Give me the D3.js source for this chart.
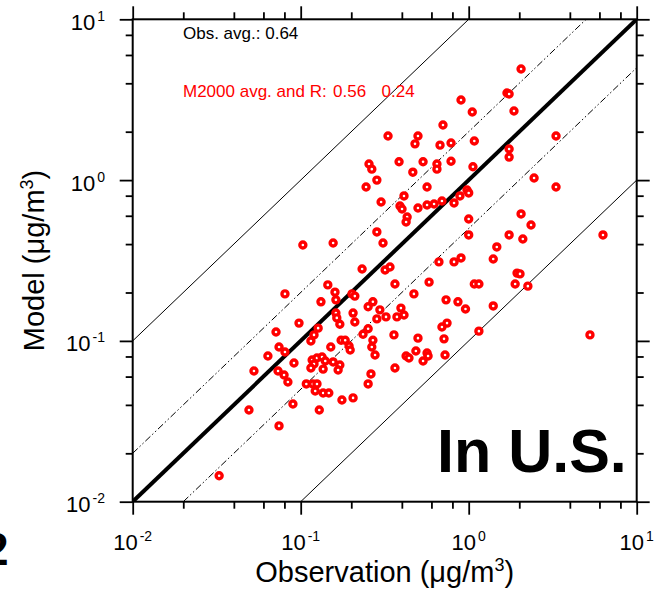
<!DOCTYPE html>
<html>
<head>
<meta charset="utf-8">
<title>Model vs observation, In U.S.</title>
<script src="https://d3js.org/d3.v7.min.js"></script>
<style>
  body { margin: 0; background: #fff; }
  svg { font-family: "Liberation Sans", Arial, Helvetica, sans-serif; }
  .tick-label { font-size: 22px; fill: #000; }
  .axis-title { font-size: 29px; fill: #000; }
  .pt { fill: #fff; stroke: #ff0000; stroke-width: 3.4; }
</style>
</head>
<body>
<svg width="658" height="598"></svg>
<script>
// observed vs modelled concentration (ug/m3), one entry per site
const obs = [
  2.05, 1.69, 1.74, 0.90, 1.05, 1.86, 0.703, 0.331, 0.499, 0.479,
  0.675, 0.785, 1.08, 3.31, 1.74, 1.74, 0.255, 0.265, 0.385, 0.535,
  0.647, 0.647, 0.785, 1.06, 0.465, 0.284, 0.245, 0.565, 2.45, 3.31,
  0.977, 1.00, 0.887, 0.412, 0.301, 0.565, 0.622, 0.693, 0.818, 0.390,
  0.401, 0.499, 0.430, 0.424, 1.00, 1.00, 0.284, 0.309, 0.156, 0.103,
  2.05, 2.35, 1.74, 2.10, 6.30, 1.47, 1.40, 0.90, 0.818, 0.665,
  0.232, 0.318, 0.340, 0.364, 0.581, 0.145, 0.0806, 0.160, 0.162, 0.202,
  0.210, 0.472, 0.733, 0.863, 0.957, 1.08, 1.15, 1.89, 2.25, 1.94,
  2.02, 1.40, 1.15, 5.27, 0.132, 0.269, 0.252, 0.296, 0.395, 0.205,
  0.412, 0.374, 0.162, 0.164, 0.171, 0.210, 0.322, 0.284, 0.743, 0.693,
  0.252, 0.235, 0.359, 0.499, 0.713, 0.269, 0.174, 0.184, 0.120, 0.127,
  0.115, 0.0977, 0.0713, 0.0743, 0.0806, 0.0638, 0.0912, 0.0527, 0.0733, 0.0796,
  0.0839, 0.0899, 0.0492, 0.0743, 0.0327, 0.151, 0.194, 0.197, 0.265, 0.277,
  0.485, 0.565, 0.573, 0.424, 0.441, 0.535, 0.723, 0.364, 0.262, 0.252,
  0.117, 0.125, 0.134, 0.140, 0.120, 0.115, 0.136, 0.156, 0.171, 0.167,
  0.108, 0.118, 0.125, 0.122, 0.136, 0.147, 0.176, 0.205, 0.129
];
const model = [
  4.91, 3.48, 3.43, 3.15, 2.65, 2.69, 2.20, 1.88, 1.88, 1.68,
  1.65, 1.70, 1.75, 1.88, 1.56, 1.39, 1.26, 1.17, 1.30, 1.30,
  1.26, 1.17, 1.31, 1.21, 1.12, 1.00, 0.906, 0.906, 1.03, 0.906,
  0.868, 0.832, 0.797, 0.797, 0.731, 0.700, 0.710, 0.741, 0.721, 0.690,
  0.661, 0.671, 0.589, 0.549, 0.573, 0.456, 0.476, 0.406, 0.406, 0.395,
  0.616, 0.526, 0.456, 0.430, 0.456, 0.384, 0.323, 0.328, 0.310, 0.310,
  0.280, 0.276, 0.288, 0.226, 0.232, 0.223, 0.196, 0.201, 0.180, 0.196,
  0.190, 0.196, 0.180, 0.175, 0.158, 0.226, 0.226, 0.226, 0.219, 0.264,
  0.261, 0.165, 0.115, 0.109, 0.175, 0.175, 0.163, 0.156, 0.160, 0.149,
  0.145, 0.141, 0.149, 0.139, 0.127, 0.131, 0.141, 0.137, 0.129, 0.122,
  0.119, 0.110, 0.109, 0.104, 0.103, 0.101, 0.101, 0.101, 0.109, 0.120,
  0.0999, 0.129, 0.1136, 0.0917, 0.0853, 0.0805, 0.0729, 0.0650, 0.0650, 0.0614,
  0.0555, 0.0405, 0.0372, 0.0296, 0.0145, 0.0917, 0.0930, 0.0878, 0.0917, 0.0817,
  0.0865, 0.0841, 0.0805, 0.0805, 0.0783, 0.0750, 0.0817, 0.0678, 0.0623, 0.0540,
  0.0761, 0.0783, 0.0794, 0.0750, 0.0718, 0.0678, 0.0668, 0.0740, 0.0708, 0.0659,
  0.0540, 0.0540, 0.0540, 0.0488, 0.0474, 0.0474, 0.0429, 0.0442, 0.0372
];
const decades = [-2, -1, 0, 1];
const minorMult = [2, 4, 6, 8];
const ratios = [10, 2, 1, 0.5, 0.1];
const obsAvg = '0.64';
const modelAvg = '0.56';
const corrR = '0.24';

const svg = d3.select('svg');
const pLeft = 132.7, pRight = 636.7, pTop = 19.3, pBottom = 501.7;

const x = d3.scaleLog().domain([0.01, 10]).range([pLeft, pRight]);
const y = d3.scaleLog().domain([0.01, 10]).range([pBottom, pTop]);

const major = decades.map(d => Math.pow(10, d));
const minor = [];
decades.slice(0, -1).forEach(d => minorMult.forEach(m => minor.push(m * Math.pow(10, d))));

svg.append('clipPath').attr('id', 'plot')
  .append('rect')
  .attr('x', pLeft).attr('y', pTop)
  .attr('width', pRight - pLeft).attr('height', pBottom - pTop);

// ratio lines 1:10, 1:2, 1:1, 2:1, 10:1
svg.append('g')
  .attr('clip-path', 'url(#plot)')
  .selectAll('line')
  .data(ratios)
  .join('line')
  .attr('x1', x(0.01)).attr('y1', r => y(0.01 * r))
  .attr('x2', x(10)).attr('y2', r => y(10 * r))
  .attr('stroke', '#000')
  .attr('stroke-width', r => r === 1 ? 4 : 1)
  .attr('stroke-dasharray', r => (r === 2 || r === 0.5) ? '7 2.5 1.5 2.5 1.5 2.5' : null);

// frame
svg.append('rect')
  .attr('x', pLeft).attr('y', pTop)
  .attr('width', pRight - pLeft).attr('height', pBottom - pTop)
  .attr('fill', 'none').attr('stroke', '#000').attr('stroke-width', 2);

function ticks(axisFn, scale, transform, len, values) {
  svg.append('g')
    .attr('transform', transform)
    .call(axisFn(scale).tickValues(values).tickSize(len).tickSizeOuter(0).tickFormat(''))
    .call(g => g.select('.domain').remove())
    .selectAll('line').attr('stroke', '#000').attr('stroke-width', 1.8);
}
ticks(d3.axisBottom, x, `translate(0,${pBottom})`, 13, major);
ticks(d3.axisBottom, x, `translate(0,${pBottom})`, 7, minor);
ticks(d3.axisTop, x, `translate(0,${pTop})`, 13, major);
ticks(d3.axisTop, x, `translate(0,${pTop})`, 7, minor);
ticks(d3.axisLeft, y, `translate(${pLeft},0)`, 13, major);
ticks(d3.axisLeft, y, `translate(${pLeft},0)`, 7, minor);
ticks(d3.axisRight, y, `translate(${pRight},0)`, 13, major);
ticks(d3.axisRight, y, `translate(${pRight},0)`, 7, minor);

// tick labels 10^n
function powLabel(sel) {
  sel.append('tspan').text('10');
  sel.append('tspan')
    .attr('dx', 2).attr('dy', -9)
    .style('font-size', '14px')
    .text(d => d);
}
svg.append('g').selectAll('text')
  .data(decades)
  .join('text')
  .attr('class', 'tick-label')
  .attr('x', d => x(Math.pow(10, d)))
  .attr('y', 550)
  .attr('text-anchor', 'middle')
  .call(powLabel);

svg.append('g').selectAll('text')
  .data(decades)
  .join('text')
  .attr('class', 'tick-label')
  .attr('x', 105)
  .attr('y', d => y(Math.pow(10, d)) + 10.5)
  .attr('text-anchor', 'end')
  .call(powLabel);

// axis titles
const xt = svg.append('text')
  .attr('class', 'axis-title')
  .attr('x', (pLeft + pRight) / 2).attr('y', 582)
  .attr('text-anchor', 'middle');
xt.append('tspan').text('Observation (\u03bcg/m');
xt.append('tspan').attr('dy', -11).style('font-size', '18px').text('3');
xt.append('tspan').attr('dy', 11).text(')');

const yt = svg.append('text')
  .attr('class', 'axis-title')
  .attr('transform', `translate(44,${(pTop + pBottom) / 2}) rotate(-90)`)
  .attr('text-anchor', 'middle');
yt.append('tspan').text('Model (\u03bcg/m');
yt.append('tspan').attr('dy', -11).style('font-size', '18px').text('3');
yt.append('tspan').attr('dy', 11).text(')');

// annotations
svg.append('text')
  .attr('x', 183).attr('y', 39)
  .style('font-size', '17px')
  .text('Obs. avg.: ' + obsAvg);

const red = svg.append('text')
  .attr('y', 97)
  .style('font-size', '17px')
  .attr('fill', '#ff0000');
red.append('tspan').attr('x', 183).text('M2000 avg. and R: ');
red.append('tspan').attr('x', 333).text(modelAvg);
red.append('tspan').attr('x', 381.5).text(corrR);

svg.append('text')
  .attr('x', 437).attr('y', 472)
  .style('font-size', '61px')
  .style('font-weight', 'bold')
  .text('In U.S.');

// cropped panel letter at the left edge (cut off in the source figure too)
svg.append('text')
  .attr('x', -17).attr('y', 565)
  .style('font-size', '46px')
  .style('font-weight', 'bold')
  .text('2');

// sites
svg.append('g')
  .selectAll('circle')
  .data(obs.map((o, i) => [o, model[i]]))
  .join('circle')
  .attr('class', 'pt')
  .attr('cx', d => x(d[0]))
  .attr('cy', d => y(d[1]))
  .attr('r', 3);
</script>
</body>
</html>
